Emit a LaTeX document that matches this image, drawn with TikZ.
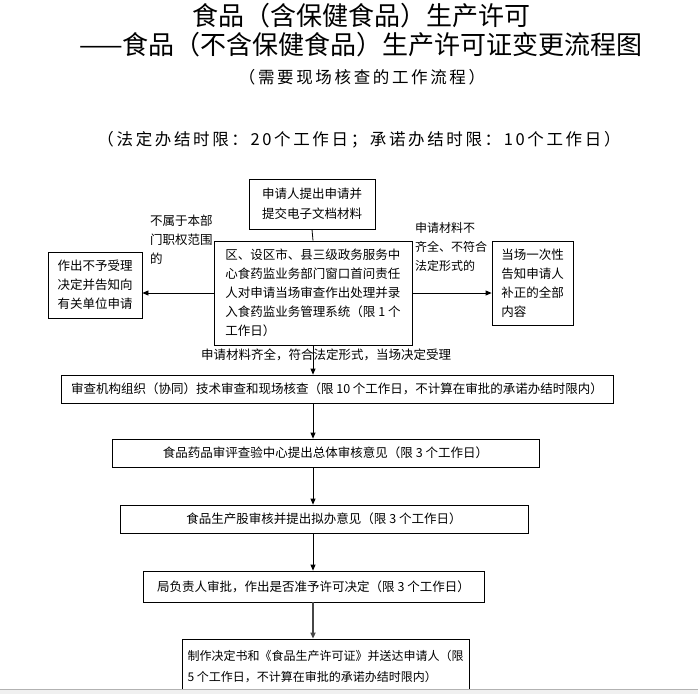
\documentclass[tikz,border=0pt]{standalone}
\usepackage{fontspec}
\setmainfont{Noto Sans CJK SC}
\usetikzlibrary{arrows.meta}
\newcommand{\bodysize}{\fontsize{12.5}{19}\selectfont}
\newcommand{\headsize}{\fontsize{16.5}{20}\selectfont\addfontfeature{LetterSpace=16}}
\tikzset{
  box/.style={draw, line width=0.8pt, font=\bodysize, inner sep=0pt, align=left},
  note/.style={font=\bodysize, inner sep=0pt, align=left},
  arr/.style={line width=0.8pt, -{Triangle[length=6pt,width=5pt]}}
}

\begin{document}
\begin{tikzpicture}[x=1pt, y=-1pt]
  \useasboundingbox (0,0) rectangle (698,694);
  \node[font=\fontsize{26}{30}\selectfont] (title) at (361,16) {食品（含保健食品）生产许可};
  \node[font=\fontsize{26}{30}\selectfont] (title2) at (361,45) {——食品（不含保健食品）生产许可证变更流程图};
  \node[font=\headsize] (sub) at (362,77) {（需要现场核查的工作流程）};
  \node[font=\headsize] (limit) at (359,140) {（法定办结时限：20个工作日；承诺办结时限：10个工作日）};

  \coordinate (spine) at (313,0);
  \node[box, minimum width=126pt, minimum height=50pt, font=\fontsize{12.5}{20}\selectfont] (apply) at (312,204) {申请人提出申请并\\提交电子文档材料};
  \node[box, minimum width=198pt, minimum height=104pt] (accept) at (313,293)
    {区、设区市、县三级政务服务中\\心食药监业务部门窗口首问责任\\人对申请当场审查作出处理并录\\入食药监业务管理系统（限 1 个\\工作日）};
  \node[box, minimum width=94pt, minimum height=66pt] (reject) at (95,285) {作出不予受理\\决定并告知向\\有关单位申请};
  \node[box, minimum width=81pt, minimum height=84pt] (correct) at (532.5,283) {当场一次性\\告知申请人\\补正的全部\\内容};
  \node[note, anchor=west] (outside) at (150,240) {不属于本部\\门职权范围\\的};
  \node[note, anchor=west, font=\fontsize{12}{19}\selectfont] (missing) at (415,247) {申请材料不\\齐全、不符合\\法定形式的};
  \node[note] (ok) at (326,355) {申请材料齐全，符合法定形式，当场决定受理};

  \node[box, minimum width=552pt, minimum height=28pt] (review) at (337,389)
    {审查机构组织（协同）技术审查和现场核查（限 10 个工作日，不计算在审批的承诺办结时限内）};
  \node[box, minimum width=427pt, minimum height=28pt] (centre) at (325.5,453) {食品药品审评查验中心提出总体审核意见（限 3 个工作日）};
  \node[box, minimum width=408pt, minimum height=28pt] (section) at (324,519) {食品生产股审核并提出拟办意见（限 3 个工作日）};
  \node[box, minimum width=341pt, minimum height=31pt] (director) at (313.5,586.5) {局负责人审批，作出是否准予许可决定（限 3 个工作日）};
  \node[box, minimum width=287pt, minimum height=54pt, font=\fontsize{12}{21}\selectfont] (issue) at (325.5,666)
    {制作决定书和《食品生产许可证》并送达申请人（限\\5 个工作日，不计算在审批的承诺办结时限内）};

  \draw[line width=0.8pt] (apply.south) -- (accept.north);
  \draw[arr] (accept.west) -- (accept.west -| reject.east);
  \draw[arr] (accept.east) -- (accept.east -| correct.west);
  \draw[arr] (accept.south) -- (accept.south |- review.north);
  \draw[arr] (review.south -| spine) -- (centre.north -| spine);
  \draw[arr] (centre.south -| spine) -- (section.north -| spine);
  \draw[arr] (section.south -| spine) -- (director.north -| spine);
  \draw[arr, draw=gray!55!black, line width=1.6pt] (director.south -| spine) -- (issue.north -| spine);

  \fill[gray!12] (0,689) rectangle (698,694);
  \draw[gray!60] (0,689) -- (698,689);
\end{tikzpicture}
\end{document}
